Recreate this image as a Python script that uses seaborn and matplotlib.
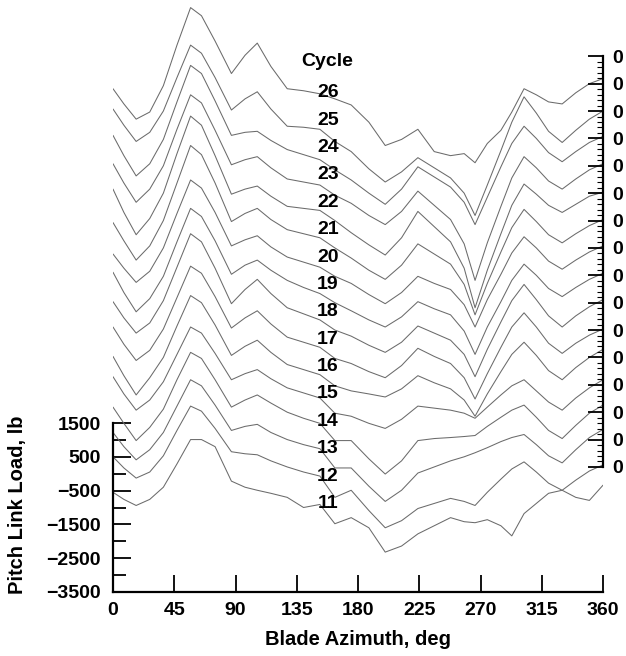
import matplotlib
matplotlib.use('Agg')
import numpy as np
import pandas as pd
import matplotlib.pyplot as plt
import seaborn as sns

# Blade azimuth (deg) at which the curves were read, and cycle numbers
azimuth = [0, 8, 17, 27, 37, 47, 57, 65, 75, 87, 97, 106, 116, 128, 140, 152, 163, 175,
           188, 200, 212, 224, 236, 248, 258, 266, 275, 285, 293, 302, 311, 320, 330, 340,
           350, 360]
cycles = list(range(11, 27))

# Pitch link load (lb) of each cycle, relative to that cycle's own zero line
load_c26 = [-960, -1410, -1860, -1650, -870, 330, 1440, 1200, 450, -510, 30, 390, -300, -960,
            -1020, -1110, -1260, -1440, -1950, -2640, -2460, -2160, -2820, -2940, -2880, -3150,
            -2580, -2190, -1650, -960, -1140, -1350, -1410, -1080, -810, -660]
load_c25 = [-750, -1230, -1710, -1440, -810, 180, 1140, 900, 180, -780, -450, -240, -750, -1260,
            -1290, -1350, -1710, -2010, -2520, -2910, -2610, -2190, -2490, -2790, -3240, -3900,
            -3000, -1980, -1140, -390, -870, -1410, -1740, -1380, -1050, -810]
load_c24 = [-720, -1320, -1920, -1560, -840, 270, 1350, 1110, 300, -720, -630, -600, -870, -1140,
            -1290, -1440, -1740, -2040, -2430, -2760, -2310, -1650, -1950, -2250, -2700, -3360,
            -2550, -1650, -960, -450, -810, -1230, -1500, -1200, -930, -750]
load_c23 = [-750, -1320, -1890, -1500, -810, 270, 1290, 1050, 240, -780, -630, -540, -870, -1200,
            -1290, -1380, -1680, -1920, -2280, -2550, -2160, -1560, -1980, -2400, -3120, -4200,
            -3090, -2010, -1170, -540, -870, -1260, -1500, -1200, -930, -750]
load_c22 = [-690, -1380, -2040, -1560, -810, 360, 1470, 1200, 300, -840, -690, -600, -900, -1200,
            -1260, -1320, -1620, -1980, -2340, -2640, -2130, -1350, -1800, -2250, -3030, -4200,
            -3090, -2010, -1170, -540, -840, -1170, -1380, -1140, -900, -780]
load_c21 = [-870, -1410, -1980, -1560, -810, 300, 1410, 1140, 300, -840, -600, -450, -780, -1080,
            -1200, -1320, -1620, -1920, -2280, -2550, -2130, -1500, -1800, -2100, -2700, -3600,
            -2670, -1740, -1020, -480, -840, -1230, -1470, -1200, -960, -780]
load_c20 = [-990, -1410, -1830, -1500, -810, 210, 1200, 960, 240, -750, -570, -450, -780, -1080,
            -1230, -1380, -1650, -1860, -2190, -2460, -2130, -1650, -1860, -2040, -2490, -3150,
            -2340, -1590, -960, -480, -810, -1200, -1440, -1170, -930, -750]
load_c19 = [-720, -1320, -1890, -1500, -840, 180, 1170, 930, 210, -780, -510, -360, -660, -960,
            -1170, -1350, -1620, -1860, -2130, -2340, -2040, -1590, -1800, -1980, -2460, -3150,
            -2340, -1590, -960, -480, -810, -1200, -1440, -1170, -930, -750]
load_c18 = [-780, -1260, -1710, -1410, -750, 240, 1230, 990, 210, -840, -420, -120, -540, -960,
            -1140, -1320, -1620, -1800, -2070, -2280, -1980, -1500, -1710, -1920, -2340, -3000,
            -2190, -1380, -750, -270, -720, -1200, -1530, -1200, -930, -720]
load_c17 = [-720, -1230, -1710, -1410, -780, 150, 1080, 870, 180, -750, -450, -240, -630, -1020,
            -1170, -1320, -1650, -1800, -2040, -2220, -1860, -1350, -1590, -1800, -2220, -2850,
            -2100, -1320, -720, -300, -720, -1200, -1500, -1200, -960, -780]
load_c16 = [-780, -1350, -1920, -1410, -810, 120, 1020, 810, 150, -750, -480, -300, -660, -1020,
            -1170, -1320, -1650, -1800, -1890, -1980, -1740, -1350, -1560, -1740, -2070, -2550,
            -1890, -1230, -720, -360, -750, -1200, -1470, -1110, -810, -570]
load_c15 = [-570, -1080, -1560, -1260, -720, 90, 900, 720, 120, -660, -480, -360, -630, -900,
            -1050, -1200, -1650, -1740, -1950, -2100, -1830, -1440, -1500, -1560, -1650, -1800,
            -1470, -1110, -840, -660, -990, -1320, -1560, -1200, -900, -660]
load_c14 = [-660, -1140, -1650, -1260, -720, 150, 960, 780, 150, -660, -450, -300, -540, -810,
            -990, -1140, -1650, -1650, -2190, -2640, -2250, -1650, -1590, -1560, -1530, -1500,
            -1230, -960, -750, -600, -960, -1350, -1590, -1200, -840, -600]
load_c13 = [-600, -1020, -1410, -1110, -600, 180, 960, 780, 210, -540, -420, -360, -600, -810,
            -960, -1080, -1650, -1650, -2190, -2640, -2310, -1800, -1620, -1440, -1320, -1200,
            -1050, -870, -750, -660, -960, -1290, -1500, -1110, -750, -510]
load_c12 = [-510, -840, -1140, -960, -480, 270, 990, 840, 330, -360, -420, -450, -630, -810,
            -960, -1080, -1710, -1500, -2100, -2610, -2400, -2040, -1890, -1740, -1830, -1950,
            -1560, -1170, -870, -660, -960, -1290, -1500, -1200, -930, -750]
load_c11 = [-750, -960, -1140, -960, -600, 90, 810, 810, 600, -420, -600, -690, -780, -900,
            -1200, -1110, -1680, -1500, -1800, -2520, -2340, -1980, -1740, -1500, -1620, -1650,
            -1560, -1740, -2040, -1380, -1080, -780, -690, -900, -990, -540]

loads = {11: load_c11, 12: load_c12, 13: load_c13, 14: load_c14, 15: load_c15, 16: load_c16,
         17: load_c17, 18: load_c18, 19: load_c19, 20: load_c20, 21: load_c21, 22: load_c22,
         23: load_c23, 24: load_c24, 25: load_c25, 26: load_c26}

left_ticks = [-3500, -2500, -1500, -500, 500, 1500]
x_ticks = [0, 45, 90, 135, 180, 225, 270, 315, 360]

# waterfall offsets: each cycle sits on its own zero line
zero_base = 200
cycle_step = 810
zeros = {c: zero_base + (c - 11) * cycle_step for c in cycles}

rows = []
for c in cycles:
    for a, v in zip(azimuth, loads[c]):
        rows.append({'azimuth': a, 'cycle': c, 'load': v + zeros[c]})
df = pd.DataFrame(rows)

sns.set_style('ticks')
plt.rcParams['font.family'] = ['Liberation Sans', 'DejaVu Sans']
plt.rcParams['font.weight'] = 'bold'
plt.rcParams['text.color'] = 'black'
plt.rcParams['axes.labelcolor'] = 'black'
plt.rcParams['xtick.color'] = 'black'
plt.rcParams['ytick.color'] = 'black'

W, H = 626, 656
fig = plt.figure(figsize=(W / 100, H / 100), dpi=100)
ax = fig.add_axes([113 / W, 64 / H, 490 / W, 592 / H])

sns.lineplot(data=df, x='azimuth', y='load', units='cycle', estimator=None,
             color='0.42', linewidth=0.75, legend=False, ax=ax)

ax.set_xlim(0, 360)
ax.set_ylim(-3500, 14015)

# left / bottom axes
ax.spines['top'].set_visible(False)
ax.spines['right'].set_visible(False)
ax.spines['left'].set_bounds(-3500, 1500)
ax.spines['bottom'].set_bounds(0, 360)
for s in ['left', 'bottom']:
    ax.spines[s].set_linewidth(1.6)
    ax.spines[s].set_color('black')

ax.set_yticks(left_ticks)
ax.set_yticklabels([str(t).replace('-', '\u2212') for t in left_ticks])
ax.set_yticks([t + 500 for t in left_ticks[:-1]], minor=True)
ax.set_xticks(x_ticks)
ax.set_xticklabels([str(t) for t in x_ticks])
ax.tick_params(axis='y', which='major', direction='in', length=13, width=1.3, pad=9,
               labelsize=14, colors='black')
ax.tick_params(axis='y', which='minor', direction='in', length=9, width=1.3, colors='black')
ax.tick_params(axis='x', which='major', direction='in', length=12, width=1.3, pad=7,
               labelsize=14, colors='black')
for lbl in ax.get_xticklabels() + ax.get_yticklabels():
    lbl.set_fontweight('bold')

ax.set_xlabel('Blade Azimuth, deg', fontsize=14.5, fontweight='bold', labelpad=8,
              color='black')
ax.set_ylabel('')
fig.text(18 / W, 1 - 505 / H, 'Pitch Link Load, lb', rotation=90, ha='center', va='center',
         fontsize=14.5, fontweight='bold', color='black')

# right axis: zero line of each cycle
ax2 = ax.twinx()
ax2.set_ylim(ax.get_ylim())
for s in ['left', 'top', 'bottom']:
    ax2.spines[s].set_visible(False)
zero_vals = [zeros[c] for c in cycles]
ax2.spines['right'].set_bounds(zero_vals[0], zero_vals[-1])
ax2.spines['right'].set_linewidth(1.6)
ax2.spines['right'].set_color('black')
ax2.set_yticks(zero_vals)
ax2.set_yticklabels(['0'] * len(zero_vals))
ax2.set_yticks(np.arange(zero_vals[0], zero_vals[-1], cycle_step / 5), minor=True)
ax2.tick_params(axis='y', which='major', direction='in', length=11, width=1.3, pad=7,
                labelsize=14, colors='black')
ax2.tick_params(axis='y', which='minor', direction='in', length=4, width=0.8, colors='black')
for lbl in ax2.get_yticklabels():
    lbl.set_fontweight('bold')

# cycle labels
ax.text(157, 12190, 'Cycle', ha='center', va='center', fontsize=14, fontweight='bold')
for c in cycles:
    ax.text(158, zeros[c] - 1080, str(c), ha='center', va='center', fontsize=14,
            fontweight='bold')

fig.savefig('out.png', dpi=100)
